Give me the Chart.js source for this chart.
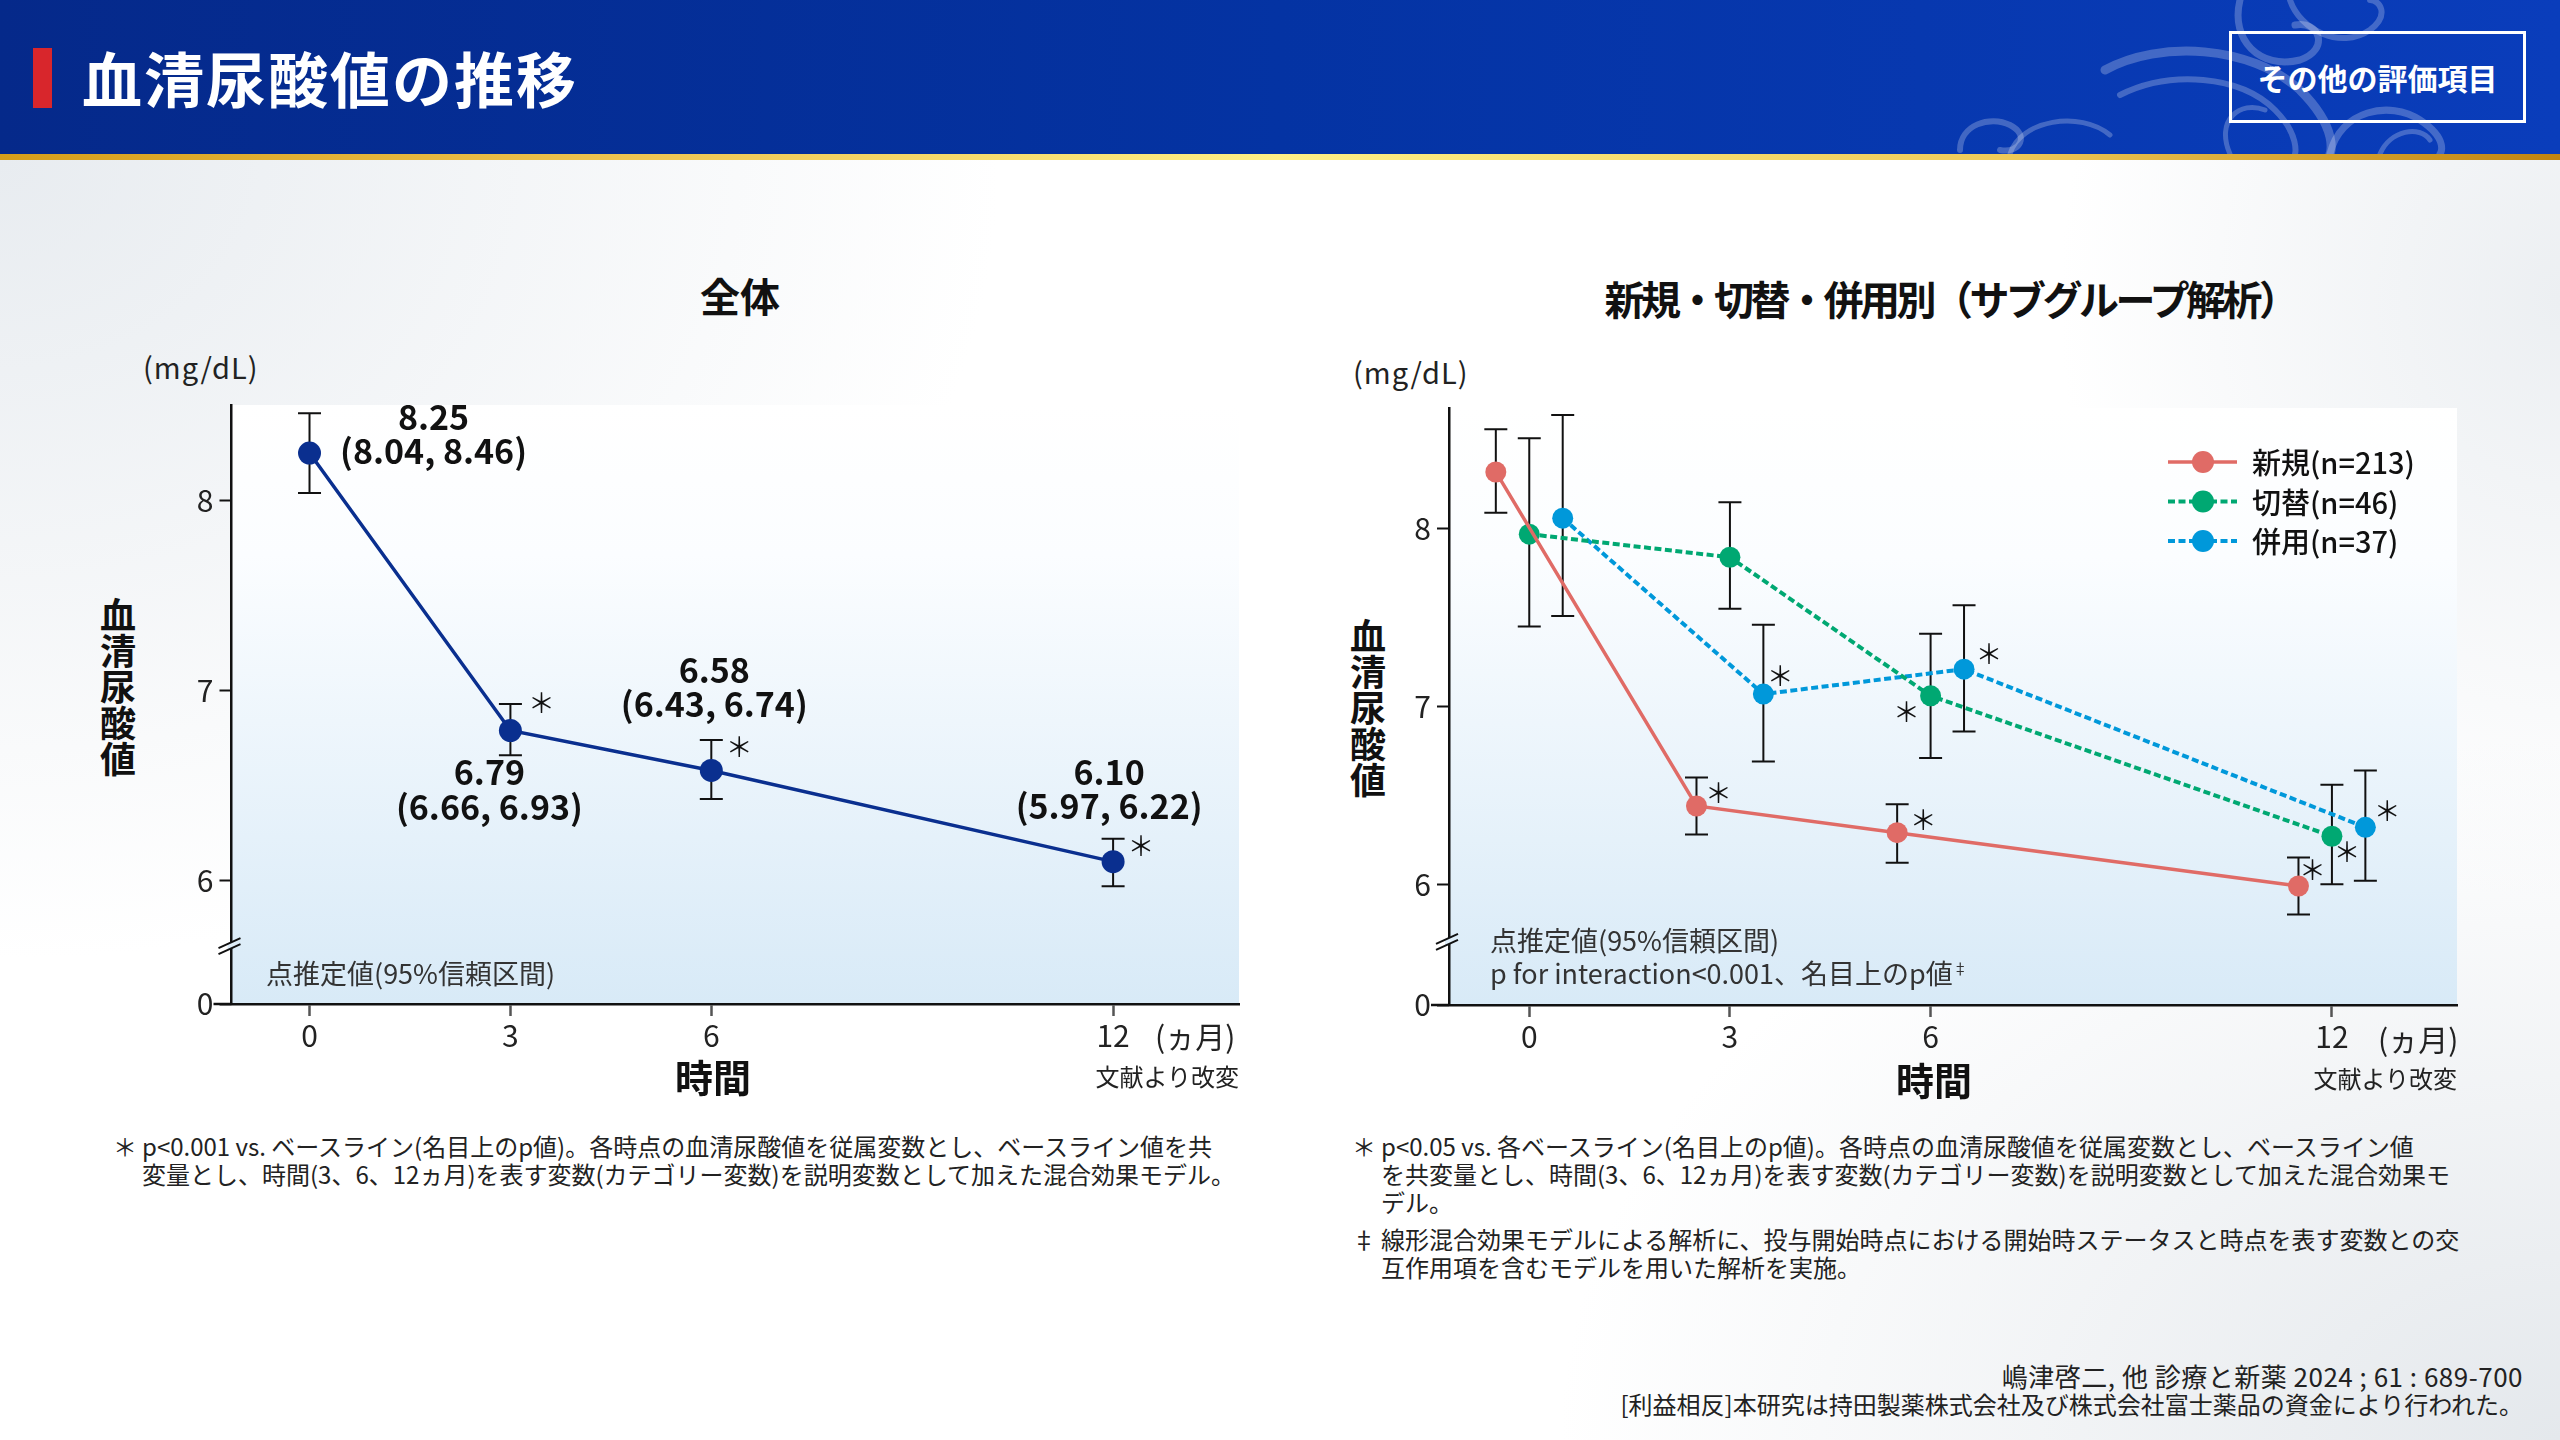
<!DOCTYPE html>
<html lang="ja">
<head>
<meta charset="utf-8">
<title>血清尿酸値の推移</title>
<script src="https://cdn.jsdelivr.net/npm/chart.js@4.4.1/dist/chart.umd.min.js"></script>
<style>
  html, body { margin: 0; padding: 0; }
  body {
    width: 2560px; height: 1440px; overflow: hidden; position: relative;
    font-family: "Noto Sans CJK JP", "Noto Sans", sans-serif; color: #222;
    background:
      radial-gradient(ellipse 1000px 800px at 0px 160px, #e8ecf0 0%, rgba(255,255,255,0) 100%),
      radial-gradient(ellipse 1000px 700px at 2560px 1440px, #e4e8ec 0%, rgba(255,255,255,0) 100%),
      radial-gradient(ellipse 500px 600px at 2560px 300px, #eceff2 0%, rgba(255,255,255,0) 100%),
      #ffffff;
  }
  .abs { position: absolute; white-space: nowrap; line-height: 1; }
  .c { transform: translate(-50%, -50%); }
  .l { transform: translate(0, -50%); }
  .r { transform: translate(-100%, -50%); }

  #header {
    position: absolute; left: 0; top: 0; width: 2560px; height: 154px; overflow: hidden;
    background: linear-gradient(90deg, #05298a 0%, #0433a3 50%, #0a3dbb 100%);
  }
  #redbar { position: absolute; left: 33px; top: 48px; width: 19px; height: 60px; background: #d8262c; }
  #title { position: absolute; left: 82px; top: 77px; transform: translate(0, -50%);
    color: #fff; font-weight: 700; font-size: 60px; letter-spacing: 2px; line-height: 1; white-space: nowrap; }
  #btn { position: absolute; left: 2229px; top: 31px; width: 297px; height: 92px; box-sizing: border-box;
    border: 3px solid #fff; color: #fff; font-weight: 700; font-size: 30px;
    display: flex; align-items: center; justify-content: center; }
  #gold { position: absolute; left: 0; top: 154px; width: 2560px; height: 6px;
    background: linear-gradient(90deg, #d69e1a 0%, #eec552 25%, #fff086 50%, #efcb5a 78%, #c08410 100%); }
  #waves { position: absolute; left: 0; top: 0; }

  .ctitle { font-weight: 700; font-size: 40px; color: #111; }
  .unit { font-size: 29px; letter-spacing: 1px; color: #222; }
  .vlab { writing-mode: vertical-rl; font-weight: 700; font-size: 36px; color: #111; line-height: 1; }
  .xlab { font-weight: 700; font-size: 38px; color: #111; }
  .small { font-size: 24px; color: #222; }
  .note { font-size: 27px; color: #333; }
  .note sup { font-size: 15px; vertical-align: 10px; }

  .fn { position: absolute; font-size: 24px; line-height: 28px; color: #222; white-space: nowrap; }
  .fn .mk { position: absolute; left: -29px; top: 0; }

  .chartbox { position: absolute; width: 1160px; height: 780px; }
</style>
</head>
<body>

<div id="header">
  <svg id="waves" width="2560" height="154" viewBox="0 0 2560 154">
    <g fill="none" stroke="rgba(255,255,255,0.24)" stroke-linecap="round">
      <path d="M2105,70 C2160,40 2250,45 2300,90 C2340,130 2330,154 2330,154" stroke-width="9"/>
      <path d="M2120,95 C2170,70 2240,75 2275,110 C2300,135 2295,154 2295,154" stroke-width="6"/>
      <path d="M1960,150 C1960,125 1990,115 2010,125 C2030,135 2020,154 2000,150" stroke-width="6"/>
      <path d="M2010,154 C2020,120 2080,110 2110,135" stroke-width="5"/>
      <path d="M2240,0 C2230,40 2260,70 2300,60 C2330,50 2320,20 2295,25" stroke-width="7"/>
      <path d="M2290,0 C2300,30 2340,50 2370,30 C2390,15 2380,0 2370,0" stroke-width="6"/>
      <path d="M2330,154 C2340,110 2390,100 2420,120 C2450,140 2440,154 2440,154" stroke-width="7"/>
      <path d="M2380,154 C2390,130 2420,125 2430,140" stroke-width="5"/>
      <path d="M2230,154 C2215,120 2240,100 2265,110" stroke-width="5"/>
    </g>
  </svg>
  <div id="redbar"></div>
  <div id="title">血清尿酸値の推移</div>
  <div id="btn">その他の評価項目</div>
</div>
<div id="gold"></div>

<!-- 左: 全体 -->
<div class="abs c ctitle" style="left:740px; top:295px;">全体</div>
<div class="abs l unit" style="left:143px; top:366px;">(mg/dL)</div>
<div class="abs vlab" style="left:100px; top:597px;">血清尿酸値</div>
<div class="abs l note" style="left:1101px; top:432px; font-size:25px;">(n=296)</div>
<div class="chartbox" style="left:100px; top:330px;"><canvas id="totalChart" width="1160" height="780"></canvas></div>
<div class="abs l note" style="left:266px; top:972px;">点推定値(95%信頼区間)</div>
<div class="abs c xlab" style="left:713px; top:1076px;">時間</div>
<div class="abs l" style="left:1155px; top:1035px; font-size:30px;">(ヵ月)</div>
<div class="abs r small" style="left:1239px; top:1076px;">文献より改変</div>

<!-- 右: 新規・切替・併用別 -->
<div class="abs c ctitle" style="left:1950px; top:298px; letter-spacing:-3.5px;">新規・切替・併用別（サブグループ解析）</div>
<div class="abs l unit" style="left:1353px; top:371px;">(mg/dL)</div>
<div class="abs vlab" style="left:1350px; top:618px;">血清尿酸値</div>
<div class="chartbox" style="left:1340px; top:330px;"><canvas id="groupChart" width="1160" height="780"></canvas></div>
<div class="abs l note" style="left:1490px; top:939px;">点推定値(95%信頼区間)</div>
<div class="abs l note" style="left:1490px; top:972px;">p for interaction&lt;0.001、名目上のp値<sup>‡</sup></div>
<div class="abs c xlab" style="left:1934px; top:1079px;">時間</div>
<div class="abs l" style="left:2378px; top:1038px; font-size:30px;">(ヵ月)</div>
<div class="abs r small" style="left:2457px; top:1078px;">文献より改変</div>

<!-- 脚注 -->
<div class="fn" style="left:142px; top:1132px;">
  <span class="mk">＊</span>p&lt;0.001 vs. ベースライン(名目上のp値)。各時点の血清尿酸値を従属変数とし、ベースライン値を共<br>
  変量とし、時間(3、6、12ヵ月)を表す変数(カテゴリー変数)を説明変数として加えた混合効果モデル。
</div>
<div class="fn" style="left:1381px; top:1132px;">
  <span class="mk">＊</span>p&lt;0.05 vs. 各ベースライン(名目上のp値)。各時点の血清尿酸値を従属変数とし、ベースライン値<br>
  を共変量とし、時間(3、6、12ヵ月)を表す変数(カテゴリー変数)を説明変数として加えた混合効果モ<br>
  デル。
</div>
<div class="fn" style="left:1381px; top:1225px;">
  <span class="mk">‡</span>線形混合効果モデルによる解析に、投与開始時点における開始時ステータスと時点を表す変数との交<br>
  互作用項を含むモデルを用いた解析を実施。
</div>
<div class="abs r small" style="left:2523px; top:1376px; font-size:26px; letter-spacing:0.5px;">嶋津啓二, 他 診療と新薬 2024 ; 61 : 689-700</div>
<div class="abs r small" style="left:2523px; top:1404px;">[利益相反]本研究は持田製薬株式会社及び株式会社富士薬品の資金により行われた。</div>

<script>
// ================= DATA =================
const months = [0, 3, 6, 12];
const xTickLabels = ["0", "3", "6", "12"];
const yTickValues = [6, 7, 8];

// 全体 (n=296)
const totalMean = [8.25, 6.79, 6.58, 6.10];
const totalLow  = [8.04, 6.66, 6.43, 5.97];
const totalHigh = [8.46, 6.93, 6.74, 6.22];
const totalSig  = [false, true, true, true];

// 新規・切替・併用別
const seriesNames = ["新規(n=213)", "切替(n=46)", "併用(n=37)"];

const newMean = [8.32, 6.44, 6.29, 5.99];
const newLow  = [8.09, 6.28, 6.12, 5.83];
const newHigh = [8.56, 6.60, 6.45, 6.15];
const newSig  = [false, true, true, true];

const switchMean = [7.97, 7.84, 7.06, 6.27];
const switchLow  = [7.45, 7.55, 6.71, 6.00];
const switchHigh = [8.51, 8.15, 7.41, 6.56];
const switchSig  = [false, false, true, true];

const addMean = [8.06, 7.07, 7.21, 6.32];
const addLow  = [7.51, 6.69, 6.86, 6.02];
const addHigh = [8.64, 7.46, 7.57, 6.64];
const addSig  = [false, true, true, true];

// ================= LAYOUT (pixel offsets from each point) =================
const totalLabelPos = [[124, -36, -2], [-21, 42, 77], [3, -100, -66], [-4, -90, -56]];
const totalStarPos  = [null, [31, -28], [28, -24], [28, -16]];
const newStarPos    = [null, [22, -13], [26, -13], [14, -16]];
const switchStarPos = [null, null, [-24, 16], [15, 16]];
const addStarPos    = [null, [17, -18], [25, -15], [22, -17]];

const FONT = "'Noto Sans CJK JP', 'Noto Sans', sans-serif";

// ================= PLUGINS =================
const plotBg = {
  id: "plotBg",
  beforeDraw(chart) {
    const { ctx, chartArea: a } = chart;
    const g = ctx.createLinearGradient(0, a.top, 0, a.bottom);
    g.addColorStop(0, "#ffffff");
    g.addColorStop(0.25, "#fbfdff");
    g.addColorStop(1, "#d8eaf7");
    ctx.save();
    ctx.fillStyle = g;
    ctx.fillRect(a.left, a.top, a.right - a.left, a.bottom - a.top);
    ctx.restore();
  }
};

const errorBars = {
  id: "errorBars",
  beforeDatasetsDraw(chart) {
    const { ctx, scales: { y } } = chart;
    ctx.save();
    ctx.strokeStyle = "#111";
    ctx.lineWidth = 2;
    chart.data.datasets.forEach((ds, i) => {
      chart.getDatasetMeta(i).data.forEach((pt, j) => {
        const top = y.getPixelForValue(ds.high[j]);
        const bot = y.getPixelForValue(ds.low[j]);
        ctx.beginPath();
        ctx.moveTo(pt.x, top); ctx.lineTo(pt.x, bot);
        ctx.moveTo(pt.x - 11.5, top); ctx.lineTo(pt.x + 11.5, top);
        ctx.moveTo(pt.x - 11.5, bot); ctx.lineTo(pt.x + 11.5, bot);
        ctx.stroke();
      });
    });
    ctx.restore();
  }
};

const stars = {
  id: "stars",
  afterDatasetsDraw(chart) {
    const { ctx } = chart;
    ctx.save();
    ctx.fillStyle = "#111";
    ctx.font = `400 27px ${FONT}`;
    ctx.textAlign = "center";
    ctx.textBaseline = "middle";
    chart.data.datasets.forEach((ds, i) => {
      chart.getDatasetMeta(i).data.forEach((pt, j) => {
        if (!ds.sig[j] || !ds.starPos[j]) return;
        ctx.fillText("＊", pt.x + ds.starPos[j][0], pt.y + ds.starPos[j][1]);
      });
    });
    ctx.restore();
  }
};

const valueLabels = {
  id: "valueLabels",
  afterDatasetsDraw(chart, args, opts) {
    if (!opts.show) return;
    const { ctx } = chart;
    const ds = chart.data.datasets[0];
    ctx.save();
    ctx.fillStyle = "#111";
    ctx.font = `700 34px ${FONT}`;
    ctx.textAlign = "center";
    ctx.textBaseline = "middle";
    chart.getDatasetMeta(0).data.forEach((pt, j) => {
      const p = totalLabelPos[j];
      ctx.fillText(ds.mean[j].toFixed(2), pt.x + p[0], pt.y + p[1]);
      ctx.fillText(`(${ds.low[j].toFixed(2)}, ${ds.high[j].toFixed(2)})`, pt.x + p[0], pt.y + p[2]);
    });
    ctx.restore();
  }
};

const axisBreak = {
  id: "axisBreak",
  afterDraw(chart, args, opts) {
    const { ctx, chartArea: a, scales: { y } } = chart;
    const x = a.left;
    const yb = y.getPixelForValue(opts.at);
    ctx.save();
    // bottom axis runs a little past the y axis
    ctx.strokeStyle = "#111";
    ctx.lineWidth = 2.5;
    ctx.beginPath();
    ctx.moveTo(x - 18, a.bottom); ctx.lineTo(x, a.bottom);
    ctx.stroke();
    // gap in the y axis
    ctx.fillStyle = "#dfeef9";
    ctx.beginPath();
    ctx.moveTo(x - 4, yb + 4.8); ctx.lineTo(x + 4, yb + 1.2);
    ctx.lineTo(x + 4, yb - 4.8); ctx.lineTo(x - 4, yb - 1.2);
    ctx.closePath();
    ctx.fill();
    ctx.lineWidth = 2;
    ctx.beginPath();
    ctx.moveTo(x - 13, yb + 3 + 5.9); ctx.lineTo(x + 9, yb + 3 - 4.1);
    ctx.moveTo(x - 13, yb - 3 + 5.9); ctx.lineTo(x + 9, yb - 3 - 4.1);
    ctx.stroke();
    ctx.restore();
  }
};

const lineLegend = {
  id: "lineLegend",
  afterDraw(chart, args, opts) {
    if (!opts.show) return;
    const { ctx } = chart;
    ctx.save();
    chart.data.datasets.forEach((ds, i) => {
      const yy = opts.y + i * opts.gap;
      ctx.strokeStyle = ds.borderColor;
      ctx.lineWidth = ds.borderWidth;
      ctx.setLineDash(ds.borderDash || []);
      ctx.beginPath();
      ctx.moveTo(opts.x, yy); ctx.lineTo(opts.x + 69, yy);
      ctx.stroke();
      ctx.setLineDash([]);
      ctx.fillStyle = ds.pointBackgroundColor;
      ctx.beginPath();
      ctx.arc(opts.x + 35, yy, 11, 0, Math.PI * 2);
      ctx.fill();
      ctx.fillStyle = "#111";
      ctx.font = `500 29px ${FONT}`;
      ctx.textAlign = "left";
      ctx.textBaseline = "middle";
      ctx.fillText(ds.label, opts.x + 84, yy + 1);
    });
    ctx.restore();
  }
};

// ================= CHART FACTORY =================
function makeOptions(cfg) {
  return {
    responsive: false,
    animation: false,
    layout: { padding: { left: 0, right: cfg.padRight, top: cfg.padTop, bottom: 0 } },
    plugins: {
      legend: { display: false },
      tooltip: { enabled: false },
      axisBreak: { at: cfg.breakAt },
      valueLabels: { show: cfg.valueLabels },
      lineLegend: cfg.legend
    },
    scales: {
      x: {
        type: "linear",
        min: cfg.xMin, max: cfg.xMax,
        afterBuildTicks: s => { s.ticks = months.map(v => ({ value: v })); },
        afterFit: s => { s.height = cfg.xHeight; },
        ticks: {
          callback: v => xTickLabels[months.indexOf(v)],
          font: { family: FONT, size: 30 },
          color: "#222", padding: 2, maxRotation: 0, autoSkip: false
        },
        grid: { drawOnChartArea: false, tickLength: 12, tickColor: "#555", tickWidth: 2.5 },
        border: { color: "#111", width: 2.5 }
      },
      y: {
        type: "linear",
        min: cfg.yMin, max: cfg.yMax,
        afterBuildTicks: s => { s.ticks = [cfg.yMin, ...yTickValues].map(v => ({ value: v })); },
        afterFit: s => { s.width = cfg.yWidth; },
        ticks: {
          callback: v => (v < yTickValues[0] ? "0" : String(v)),
          font: { family: FONT, size: 30 },
          color: "#222", padding: 6, autoSkip: false
        },
        grid: { drawOnChartArea: false, tickLength: 12, tickColor: "#111", tickWidth: 2 },
        border: { color: "#111", width: 2.5 }
      }
    }
  };
}

function series(label, mean, low, high, sig, starPos, shift, color, dash) {
  return {
    label,
    data: months.map((m, i) => ({ x: m + shift, y: mean[i] })),
    mean, low, high, sig, starPos,
    borderColor: color,
    borderWidth: dash ? 4 : 3.5,
    borderDash: dash || [],
    pointRadius: 10.5,
    pointBackgroundColor: color,
    pointBorderWidth: 0,
    tension: 0
  };
}

const plugins = [plotBg, errorBars, stars, valueLabels, axisBreak, lineLegend];

// ================= 全体 =================
const totalSet = series("全体", totalMean, totalLow, totalHigh, totalSig, totalStarPos, 0, "#0a2f8f");
totalSet.pointRadius = 11.5;
totalSet.borderWidth = 3.5;

new Chart(document.getElementById("totalChart"), {
  type: "line",
  data: { datasets: [totalSet] },
  options: makeOptions({
    padRight: 21, padTop: 75, xHeight: 106, yWidth: 131.5,
    xMin: -1.165, xMax: 13.88, yMin: 5.351, yMax: 8.503, breakAt: 5.66,
    valueLabels: true, legend: { show: false }
  }),
  plugins
});

// ================= 新規・切替・併用別 =================
new Chart(document.getElementById("groupChart"), {
  type: "line",
  data: {
    datasets: [
      series(seriesNames[0], newMean, newLow, newHigh, newSig, newStarPos, -0.5, "#e06b66"),
      series(seriesNames[1], switchMean, switchLow, switchHigh, switchSig, switchStarPos, 0, "#00a872", [7, 3.5]),
      series(seriesNames[2], addMean, addLow, addHigh, addSig, addStarPos, 0.5, "#0098da", [7, 3.5])
    ]
  },
  options: makeOptions({
    padRight: 43, padTop: 78, xHeight: 105, yWidth: 109,
    xMin: -1.2, xMax: 13.87, yMin: 5.32, yMax: 8.68, breakAt: 5.68,
    valueLabels: false, legend: { show: true, x: 828, y: 132, gap: 39.5 }
  }),
  plugins
});
</script>
</body>
</html>
